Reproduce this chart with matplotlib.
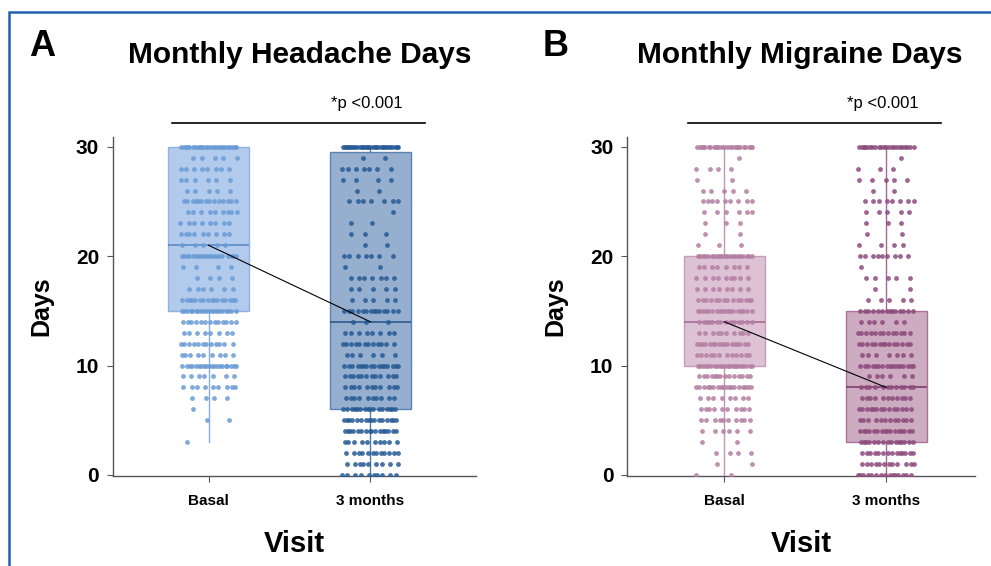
import numpy as np
import matplotlib.pyplot as plt
from matplotlib.patches import Rectangle

plt.rcParams['font.family'] = ['Liberation Sans', 'DejaVu Sans']

days = list(range(31))
visits = ['Basal', '3 months']

# number of patients per day value (0..30)
mhd_basal = [0, 0, 0, 1, 0, 2, 1, 4, 9, 7, 20, 9, 12, 8, 13, 20,
             16, 6, 4, 4, 20, 5, 9, 8, 9, 14, 5, 6, 8, 5, 25]
mhd_3m = [10, 9, 12, 10, 16, 16, 16, 10, 11, 12, 16, 6, 12, 8, 3, 14,
          5, 5, 7, 2, 7, 2, 3, 2, 1, 7, 2, 4, 7, 2, 30]
mmd_basal = [2, 2, 4, 2, 6, 10, 10, 8, 18, 14, 22, 12, 17, 10, 14, 18,
             14, 8, 9, 8, 22, 3, 2, 3, 6, 9, 5, 2, 4, 1, 25]
mmd_3m = [15, 12, 14, 15, 16, 12, 14, 11, 12, 6, 17, 7, 14, 13, 6, 14,
          5, 2, 5, 1, 9, 4, 2, 3, 5, 8, 2, 5, 3, 1, 22]

# box statistics as drawn: whisker low, q1, median, q3, whisker high
mhd_stats = [[3, 15, 21, 30, 30], [0, 6, 14, 29.5, 30]]
mmd_stats = [[0, 10, 14, 20, 30], [0, 3, 8, 15, 30]]

panels = [
    dict(letter='A', title='Monthly Headache Days', counts=[mhd_basal, mhd_3m],
         stats=mhd_stats, pos=[0.114, 0.159, 0.366, 0.599], xlim=(-0.59, 1.65),
         fill=['#aac6ea', '#8ba7c9'], dot=['#6a9bd6', '#265a95'],
         edge=['#86aee0', '#4f79aa'], med=['#5d8cc6', '#2c5a8e']),
    dict(letter='B', title='Monthly Migraine Days', counts=[mmd_basal, mmd_3m],
         stats=mmd_stats, pos=[0.633, 0.159, 0.351, 0.599], xlim=(-0.6, 1.55),
         fill=['#d9bcd0', '#c8a2bb'], dot=['#b47ea2', '#8c4a7b'],
         edge=['#c395b4', '#a36a93'], med=['#a56b92', '#7e3f6d']),
]

fig = plt.figure(figsize=(9.91, 5.66), dpi=100)

# blue frame around the figure
fig.patches.append(Rectangle((9 / 991, -0.05), 1.2, 1 - 12 / 566 + 0.05,
                             transform=fig.transFigure, fill=False,
                             edgecolor='#2360ad', linewidth=1.8))

for p in panels:
    ax = fig.add_axes(p['pos'])
    for i in range(2):
        st = p['stats'][i]
        bx = dict(whislo=st[0], q1=st[1], med=st[2], q3=st[3], whishi=st[4], fliers=[])
        ax.bxp([bx], positions=[i], widths=0.5, patch_artist=True, showcaps=False,
               boxprops=dict(facecolor=p['fill'][i], edgecolor=p['edge'][i],
                             alpha=0.9, linewidth=1),
               whiskerprops=dict(color=p['edge'][i], linewidth=1),
               medianprops=dict(color=p['med'][i], linewidth=1.2))
        xs, ys = [], []
        for v, n in zip(days, p['counts'][i]):
            for k in range(n):
                off = ((k * 0.618034 + v * 0.371) % 1.0 - 0.5) * 0.35
                xs.append(i + off)
                ys.append(v)
        ax.scatter(xs, ys, s=12, color=p['dot'][i], alpha=0.85, linewidths=0, zorder=3)
    ax.plot([0, 1], [p['stats'][0][2], p['stats'][1][2]], color='black', lw=0.8, zorder=4)

    ax.set_xlim(*p['xlim'])
    ax.set_ylim(-0.1, 30.9)
    ax.set_xticks([0, 1])
    ax.set_xticklabels(visits, fontsize=11, fontweight='bold')
    ax.set_yticks([0, 10, 20, 30])
    ax.set_yticklabels(['0', '10', '20', '30'], fontsize=15, fontweight='bold')
    ax.tick_params(axis='both', length=4, color='#555555', pad=6)
    ax.tick_params(axis='x', pad=9)
    for s in ['top', 'right']:
        ax.spines[s].set_visible(False)
    for s in ['left', 'bottom']:
        ax.spines[s].set_color('#555555')
        ax.spines[s].set_linewidth(1)
    ax.set_ylabel('Days', fontsize=18, fontweight='bold', labelpad=16)
    ax.set_xlabel('Visit', fontsize=21, fontweight='bold', labelpad=16)

    # significance bracket
    ax.plot([-0.226, 1.336], [32.2, 32.2], color='black', lw=1.2, clip_on=False)
    ax.text(0.98, 33.3, '*p <0.001', ha='center', va='bottom', fontsize=12)

fig.text(0.302, 0.903, panels[0]['title'], ha='center', va='center', fontsize=21.5, fontweight='bold')
fig.text(0.807, 0.903, panels[1]['title'], ha='center', va='center', fontsize=21.5, fontweight='bold')
fig.text(0.029, 0.918, 'A', ha='left', va='center', fontsize=26, fontweight='bold')
fig.text(0.548, 0.918, 'B', ha='left', va='center', fontsize=26, fontweight='bold')

fig.savefig('out.png', dpi=100)
